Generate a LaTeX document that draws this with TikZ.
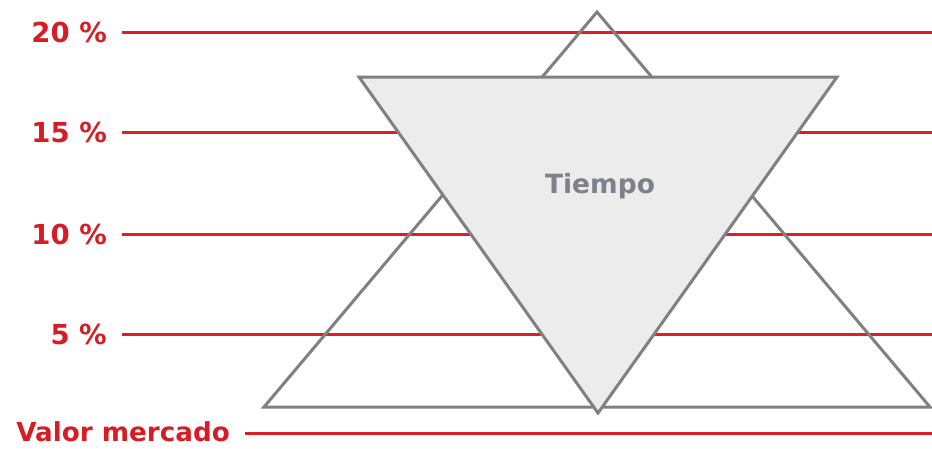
\documentclass[tikz,border=0pt]{standalone}
\usepackage{fontspec}
\setmainfont{DejaVu Sans}
\begin{document}
\begin{tikzpicture}[x=1pt,y=-1pt,
  lbl/.style={font=\fontsize{27.5}{27.5}\selectfont\bfseries, text=redtxt, inner sep=0pt, anchor=east},
  level/.style={draw=redline, line width=3pt},
  tri/.style={draw=grayline, line width=3pt, line join=miter}]
\definecolor{redline}{RGB}{222,30,36}
\definecolor{redtxt}{RGB}{214,28,36}
\definecolor{grayline}{RGB}{128,128,132}
\definecolor{grayfill}{RGB}{236,236,237}
\definecolor{graytxt}{RGB}{128,128,138}
\useasboundingbox (0,0) rectangle (932,448);
% level labels and lines
\node[lbl] (l20) at (107,32) {20 \%};
\node[lbl] (l15) at (107,132) {15 \%};
\node[lbl] (l10) at (107,234) {10 \%};
\node[lbl] (l5) at (107,334) {5 \%};
\node[lbl, font=\fontsize{26.2}{26.2}\selectfont\bfseries] (lv) at (230,432) {Valor mercado};
\coordinate (r20) at (932,32);
\coordinate (r15) at (932,132);
\coordinate (r10) at (932,234);
\coordinate (r5) at (932,334);
\coordinate (rv) at (932,433);
\draw[level] ([xshift=15pt]l20.east) -- (r20);
\draw[level] ([xshift=15pt]l15.east) -- (r15);
\draw[level] ([xshift=15pt]l10.east) -- (r10);
\draw[level] ([xshift=15pt]l5.east) -- (r5);
\draw[level] ([xshift=15pt]lv.east |- rv) -- (rv);
% upward triangle
\coordinate (ua) at (597,12);
\coordinate (ul) at (264,407);
\coordinate (ur) at (930,407);
\draw[tri] (ua) -- (ul) -- (ur) -- cycle;
% inverted triangle
\coordinate (dl) at (359,77);
\coordinate (dr) at (837,77);
\coordinate (da) at (598,413);
\draw[tri, fill=grayfill] (dl) -- (dr) -- (da) -- cycle;
\node[font=\fontsize{26.5}{26.5}\selectfont\bfseries, text=graytxt] (tiempo) at (600,186) {Tiempo};
\end{tikzpicture}
\end{document}
